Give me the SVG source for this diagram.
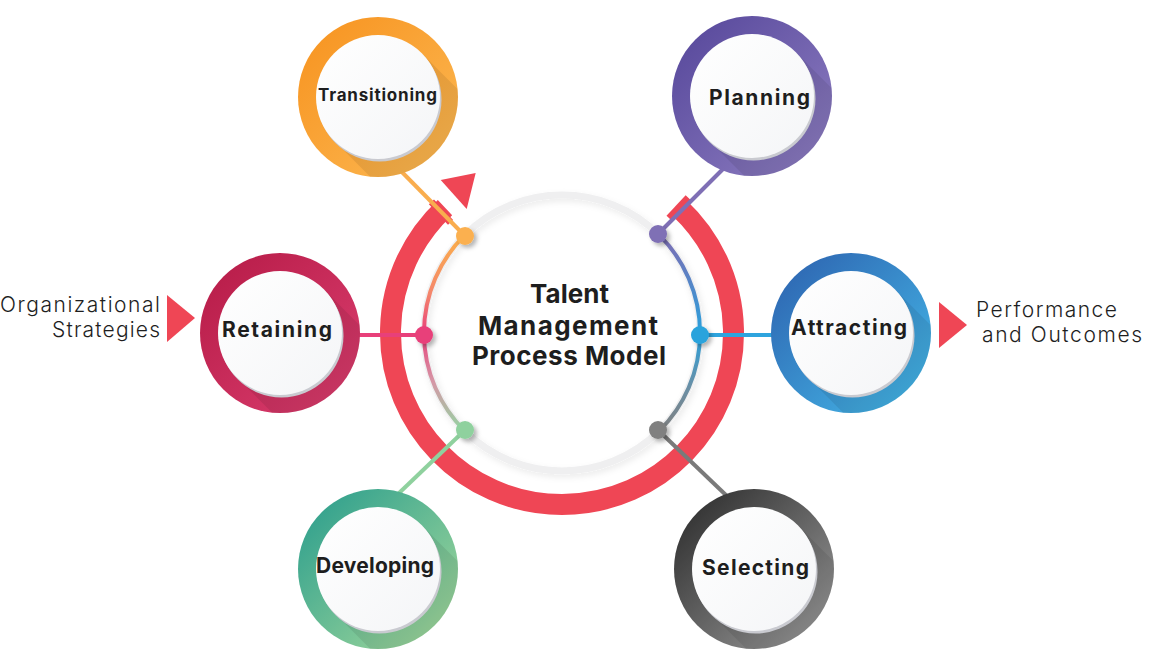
<svg xmlns="http://www.w3.org/2000/svg" width="1150" height="659" viewBox="0 0 1150 659">
<style>
.lbl{font-family:Inter,"Open Sans","Liberation Sans",sans-serif;font-weight:700;fill:#1e1e1e;text-anchor:middle}
.title{font-family:Inter,"Open Sans","Liberation Sans",sans-serif;font-weight:700;font-size:26px;fill:#1e1e1e;text-anchor:middle}
.side{font-family:Inter,"Open Sans","Liberation Sans",sans-serif;font-weight:300;font-size:21px;fill:#1e1e1e}
.conn{fill:none;stroke-width:4}
.ls{fill:#000;opacity:0.08}
.inshadow{fill:#c9cad0}
</style>
<defs>
<linearGradient id="gOrange" x1="0" y1="0" x2="1" y2="1"><stop offset="0" stop-color="#f7921e"/><stop offset="1" stop-color="#fcba55"/></linearGradient>
<linearGradient id="gPurple" x1="0" y1="0" x2="1" y2="1"><stop offset="0" stop-color="#544599"/><stop offset="1" stop-color="#9080c3"/></linearGradient>
<linearGradient id="gPink" x1="0" y1="0" x2="1" y2="1"><stop offset="0" stop-color="#b51a46"/><stop offset="1" stop-color="#dc3f70"/></linearGradient>
<linearGradient id="gBlue" x1="0" y1="0" x2="1" y2="1"><stop offset="0" stop-color="#2c5fad"/><stop offset="1" stop-color="#46bceb"/></linearGradient>
<linearGradient id="gGreen" x1="0" y1="0" x2="1" y2="1"><stop offset="0" stop-color="#269b8c"/><stop offset="1" stop-color="#a9dc9c"/></linearGradient>
<linearGradient id="gGray" x1="0" y1="0" x2="1" y2="1"><stop offset="0" stop-color="#262626"/><stop offset="1" stop-color="#a0a0a0"/></linearGradient>
<linearGradient id="gWhite" x1="0" y1="0" x2="1" y2="1"><stop offset="0" stop-color="#ffffff"/><stop offset="1" stop-color="#f4f5f7"/></linearGradient>
<linearGradient id="gLeftArc" gradientUnits="userSpaceOnUse" x1="0" y1="235" x2="0" y2="431"><stop offset="0" stop-color="#fbb04a"/><stop offset="0.3" stop-color="#f4866c"/><stop offset="0.5" stop-color="#e8407a"/><stop offset="0.75" stop-color="#d597a6"/><stop offset="1" stop-color="#94d3a2"/></linearGradient>
<linearGradient id="gRightArc" gradientUnits="userSpaceOnUse" x1="0" y1="235" x2="0" y2="431"><stop offset="0" stop-color="#7e6cb3"/><stop offset="0.5" stop-color="#2aa0dc"/><stop offset="0.78" stop-color="#6a8fa5"/><stop offset="1" stop-color="#808080"/></linearGradient>
<clipPath id="ringClip"><circle cx="0" cy="0" r="80"/></clipPath>
<filter id="dotShadow" x="-50%" y="-50%" width="220%" height="220%"><feDropShadow dx="3" dy="3" stdDeviation="2" flood-color="#000" flood-opacity="0.28"/></filter>
<filter id="ringShadow" x="-20%" y="-20%" width="140%" height="140%"><feDropShadow dx="2" dy="3" stdDeviation="3" flood-color="#000" flood-opacity="0.08"/></filter>
<g id="nodeBody">
<polygon class="ls" points="43.8,-43.8 143.8,56.2 56.2,143.8 -43.8,43.8" clip-path="url(#ringClip)"/>
<circle class="inshadow" cx="1.5" cy="2.5" r="62"/>
<circle fill="url(#gWhite)" cx="0" cy="0" r="62"/>
</g>
</defs>

<g id="ring">
<path d="M 679 207.6 A 171.5 171.5 0 1 1 445 207.6" fill="none" stroke="#ef4655" stroke-width="21"/>
<polygon points="440.7,180 475.7,173 466.7,209" fill="#ef4655"/>
<g transform="rotate(-133 562 333)"><rect x="719" y="323.5" width="28" height="7" fill="#ef4655"/></g>
<g transform="rotate(-47 562 333)"><rect x="719" y="329.5" width="28" height="7" fill="#ef4655"/></g>
<circle cx="562" cy="333" r="138" fill="none" stroke="#efeff0" stroke-width="7" filter="url(#ringShadow)"/>
<path d="M 464.4 235.4 A 138 138 0 0 0 464.4 430.6" fill="none" stroke="url(#gLeftArc)" stroke-width="4"/>
<path d="M 659.6 235.4 A 138 138 0 0 1 659.6 430.6" fill="none" stroke="url(#gRightArc)" stroke-width="4"/>
</g>

<g id="connectors">
<line class="conn" x1="465" y1="236" x2="395" y2="165" stroke="#f9ad4e"/>
<line class="conn" x1="658" y1="234" x2="728" y2="164" stroke="#7f6fb5"/>
<line class="conn" x1="424" y1="335" x2="355" y2="335" stroke="#e8407a"/>
<line class="conn" x1="700" y1="335" x2="776" y2="335" stroke="#2ea4de"/>
<line class="conn" x1="465" y1="430" x2="397" y2="495" stroke="#8fd19e"/>
<line class="conn" x1="658" y1="430" x2="729" y2="498" stroke="#7a7a7a"/>
<g filter="url(#dotShadow)">
<circle cx="465" cy="236" r="9" fill="#fbb04f"/>
<circle cx="658" cy="234" r="9" fill="#7f6fb5"/>
<circle cx="424" cy="335" r="9" fill="#e8407a"/>
<circle cx="700" cy="335" r="9" fill="#2aa3dc"/>
<circle cx="465" cy="430" r="9" fill="#8fd19e"/>
<circle cx="658" cy="430" r="9" fill="#808080"/>
</g>
</g>

<g id="center-title">
<text class="title" x="569.5" y="303" textLength="79" lengthAdjust="spacing">Talent</text>
<text class="title" x="568" y="335" textLength="180" lengthAdjust="spacing">Management</text>
<text class="title" x="569" y="365" textLength="194" lengthAdjust="spacing">Process Model</text>
</g>

<g id="node-transitioning" transform="translate(378,97)">
<circle r="80" fill="url(#gOrange)"/>
<use href="#nodeBody"/>
<text class="lbl" x="-0.5" y="4" font-size="17" textLength="119" lengthAdjust="spacing">Transitioning</text>
</g>
<g id="node-planning" transform="translate(752,96)">
<circle r="80" fill="url(#gPurple)"/>
<use href="#nodeBody"/>
<text class="lbl" x="7.5" y="9" font-size="21" textLength="101" lengthAdjust="spacing">Planning</text>
</g>
<g id="node-retaining" transform="translate(280,333)">
<circle r="80" fill="url(#gPink)"/>
<use href="#nodeBody"/>
<text class="lbl" x="-3" y="4" font-size="21" textLength="110" lengthAdjust="spacing">Retaining</text>
</g>
<g id="node-attracting" transform="translate(851,333)">
<circle r="80" fill="url(#gBlue)"/>
<use href="#nodeBody"/>
<text class="lbl" x="-2" y="2" font-size="21" textLength="116" lengthAdjust="spacing">Attracting</text>
</g>
<g id="node-developing" transform="translate(378,569)">
<circle r="80" fill="url(#gGreen)"/>
<use href="#nodeBody"/>
<text class="lbl" x="-3" y="4" font-size="21" textLength="118" lengthAdjust="spacing">Developing</text>
</g>
<g id="node-selecting" transform="translate(754,569)">
<circle r="80" fill="url(#gGray)"/>
<use href="#nodeBody"/>
<text class="lbl" x="1.5" y="6" font-size="21" textLength="107" lengthAdjust="spacing">Selecting</text>
</g>

<g id="input-label">
<text class="side" x="160" y="312" text-anchor="end" textLength="160" lengthAdjust="spacing">Organizational</text>
<text class="side" x="160" y="337" text-anchor="end" textLength="108" lengthAdjust="spacing">Strategies</text>
<polygon points="167,295 195,318 167,342" fill="#ef4655"/>
</g>
<g id="output-label">
<polygon points="939,302 967,325 939,348" fill="#ef4655"/>
<text class="side" x="976" y="317" textLength="141" lengthAdjust="spacing">Performance</text>
<text class="side" x="982" y="342" textLength="160" lengthAdjust="spacing">and Outcomes</text>
</g>
</svg>
